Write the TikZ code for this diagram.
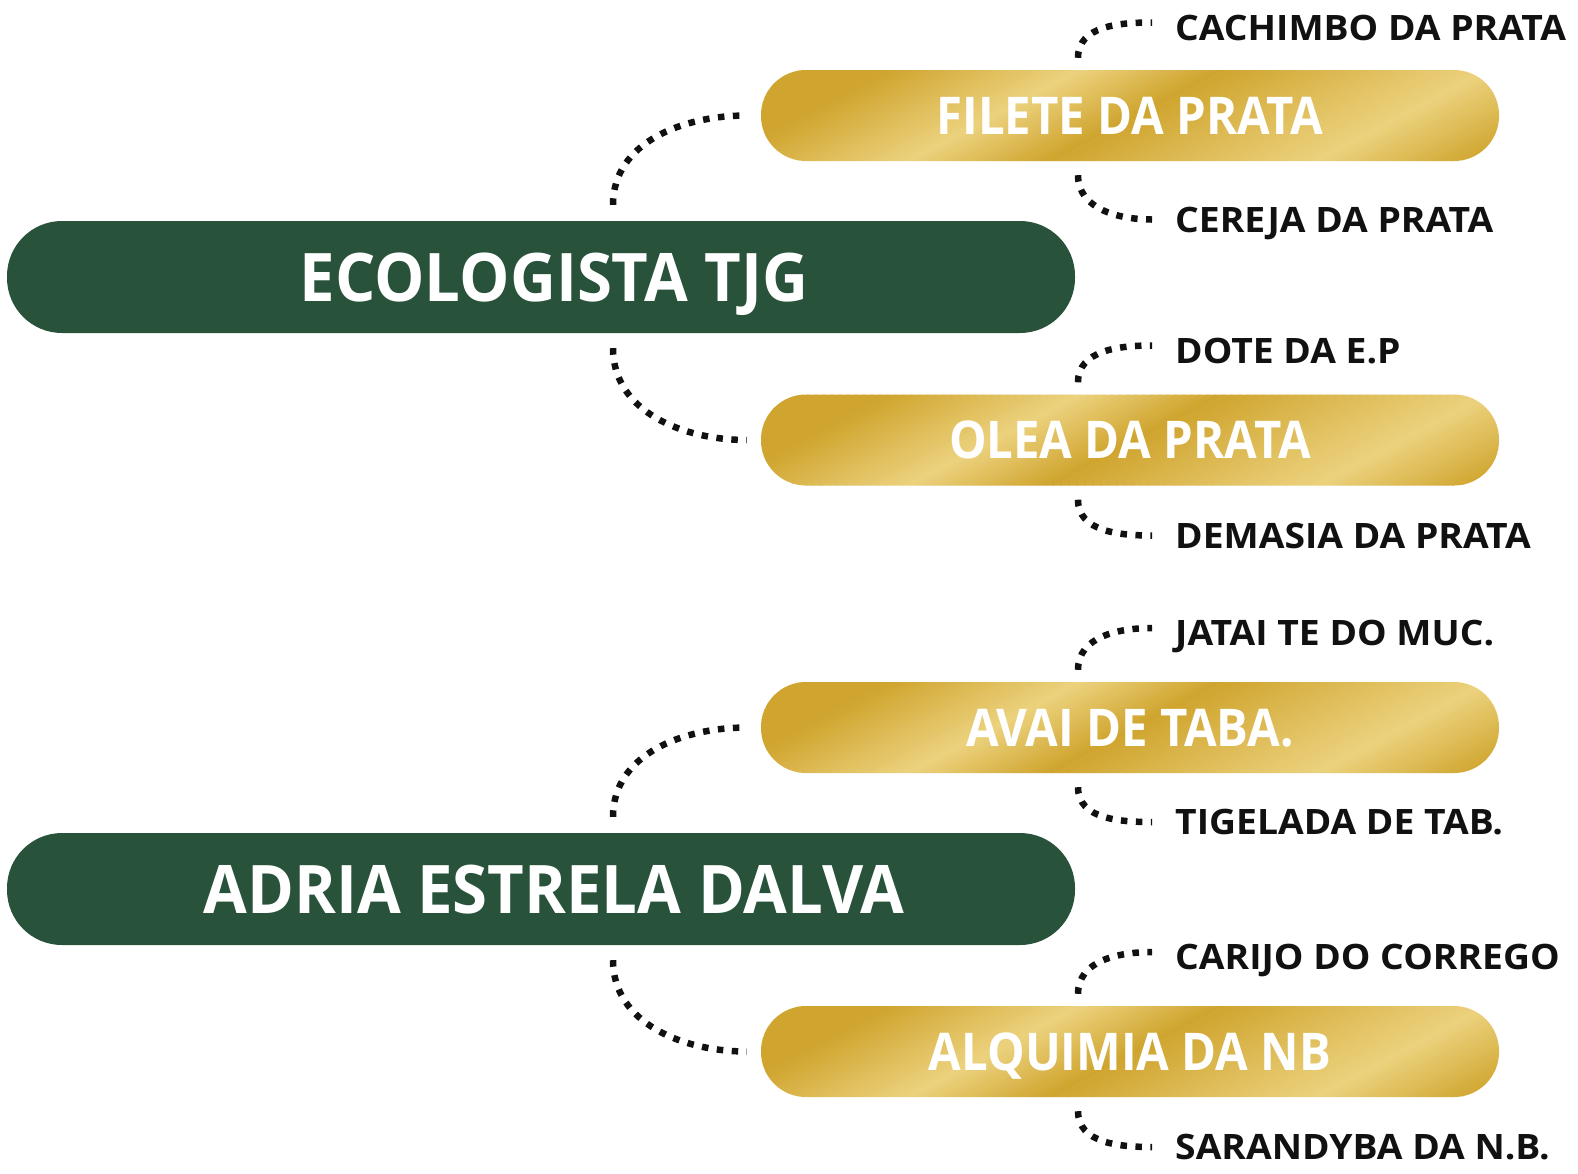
\documentclass[tikz,border=0pt]{standalone}
\usepackage{fontspec}
\setmainfont{Open Sans}
\newfontfamily\pillfont{Open Sans}[FakeStretch=0.91]
\newfontfamily\rootfont{Open Sans}[FakeStretch=0.947]
\newfontfamily\leaffont{Open Sans}[FakeStretch=1.065]
\usepackage{tikz}

\definecolor{ecogreen}{HTML}{28523A}
\definecolor{golddark}{HTML}{D0A52F}
\definecolor{goldlight}{HTML}{ECD27E}
\definecolor{leafink}{HTML}{111111}

% slanted metallic bands behind a gold pill centred at (1130,#1)
\newcommand{\goldsheen}[1]{%
  \begin{scope}
    \clip[rounded corners=45pt] (761,#1-45.5) rectangle (1499,#1+45.5);
    \foreach \bandx in {-480,-472,...,480}{
      \pgfmathtruncatemacro\pl{\bandx<-330 ? 0 : (\bandx<-140 ? (\bandx+330)/1.9 :
        (\bandx<0 ? -\bandx/1.4 : (\bandx<270 ? \bandx/2.7 : (\bandx<430 ? (430-\bandx)/1.6 : 0))))}
      \pgfmathsetmacro\xb{1130+\bandx-94}
      \pgfmathsetmacro\xt{1130+\bandx+94}
      \fill[goldlight!\pl!golddark] (\xb,#1+50) -- (\xb+9,#1+50)
        -- (\xt+9,#1-50) -- (\xt,#1-50) -- cycle;
    }
  \end{scope}}

\begin{document}
\begin{tikzpicture}[
  x=1pt, y=-1pt,
  greenpill/.style={rectangle, rounded corners=55pt, fill=ecogreen,
    minimum width=1068pt, minimum height=112pt, inner sep=0pt, text depth=0pt,
    text=white, font=\fontsize{67}{67}\rootfont\bfseries},
  goldpill/.style={rectangle, rounded corners=45pt,
    minimum width=738pt, minimum height=91pt, inner sep=0pt,
    text depth=0pt, text=white, font=\fontsize{52}{52}\pillfont\bfseries},
  leaf/.style={anchor=west, inner sep=0pt, text depth=0pt, text=leafink,
    font=\fontsize{35}{35}\leaffont\bfseries},
  dotline/.style={line width=6.5pt, dash pattern=on 6.5pt off 8.5pt, leafink}
]
\useasboundingbox (0,0) rectangle (1578,1173);

% two roots
\node[greenpill] (eco) at (541,277) {\hspace*{26pt}ECOLOGISTA TJG};
\node[greenpill] (adria) at (541,889) {\hspace*{26pt}ADRIA ESTRELA DALVA};

% branches
\goldsheen{115.5}
\node[goldpill] (filete) at (1130,115.5) {FILETE DA PRATA};
\goldsheen{440}
\node[goldpill] (olea) at (1130,440) {OLEA DA PRATA};
\goldsheen{727.5}
\node[goldpill] (avai) at (1130,727.5) {AVAI DE TABA.};
\goldsheen{1051.5}
\node[goldpill] (alquimia) at (1130,1051.5) {ALQUIMIA DA NB};

% leaves
\node[leaf] (cachimbo) at (1175,27.5) {CACHIMBO DA PRATA};
\node[leaf] (cereja) at (1175,219.5) {CEREJA DA PRATA};
\node[leaf] (dote) at (1175,350.5) {DOTE DA E.P};
\node[leaf] (demasia) at (1175,535.5) {DEMASIA DA PRATA};
\node[leaf] (jatai) at (1175,633) {JATAI TE DO MUC.};
\node[leaf] (tigelada) at (1175,822) {TIGELADA DE TAB.};
\node[leaf] (carijo) at (1175,957) {CARIJO DO CORREGO};
\node[leaf] (sarandyba) at (1175,1147) {SARANDYBA DA N.B.};

% root to branch
\draw[dotline] ([xshift=72pt,yshift=16pt]eco.north) to[out=90,in=180] ([xshift=-14pt]filete.west);
\draw[dotline] ([xshift=72pt,yshift=-15pt]eco.south) to[out=-90,in=180] ([xshift=-14pt]olea.west);
\draw[dotline] ([xshift=72pt,yshift=16pt]adria.north) to[out=90,in=180] ([xshift=-14pt]avai.west);
\draw[dotline] ([xshift=72pt,yshift=-15pt]adria.south) to[out=-90,in=180] ([xshift=-14pt]alquimia.west);

% branch to leaf
\draw[dotline] ([xshift=-52pt,yshift=12pt]filete.north) to[out=90,in=180] ([xshift=-23pt,yshift=5pt]cachimbo.west);
\draw[dotline] ([xshift=-52pt,yshift=-14pt]filete.south) to[out=-90,in=180] ([xshift=-23pt]cereja.west);
\draw[dotline] ([xshift=-52pt,yshift=12pt]olea.north) to[out=90,in=180] ([xshift=-23pt,yshift=5pt]dote.west);
\draw[dotline] ([xshift=-52pt,yshift=-14pt]olea.south) to[out=-90,in=180] ([xshift=-23pt]demasia.west);
\draw[dotline] ([xshift=-52pt,yshift=12pt]avai.north) to[out=90,in=180] ([xshift=-23pt,yshift=5pt]jatai.west);
\draw[dotline] ([xshift=-52pt,yshift=-14pt]avai.south) to[out=-90,in=180] ([xshift=-23pt]tigelada.west);
\draw[dotline] ([xshift=-52pt,yshift=12pt]alquimia.north) to[out=90,in=180] ([xshift=-23pt,yshift=5pt]carijo.west);
\draw[dotline] ([xshift=-52pt,yshift=-14pt]alquimia.south) to[out=-90,in=180] ([xshift=-23pt]sarandyba.west);
\end{tikzpicture}
\end{document}
